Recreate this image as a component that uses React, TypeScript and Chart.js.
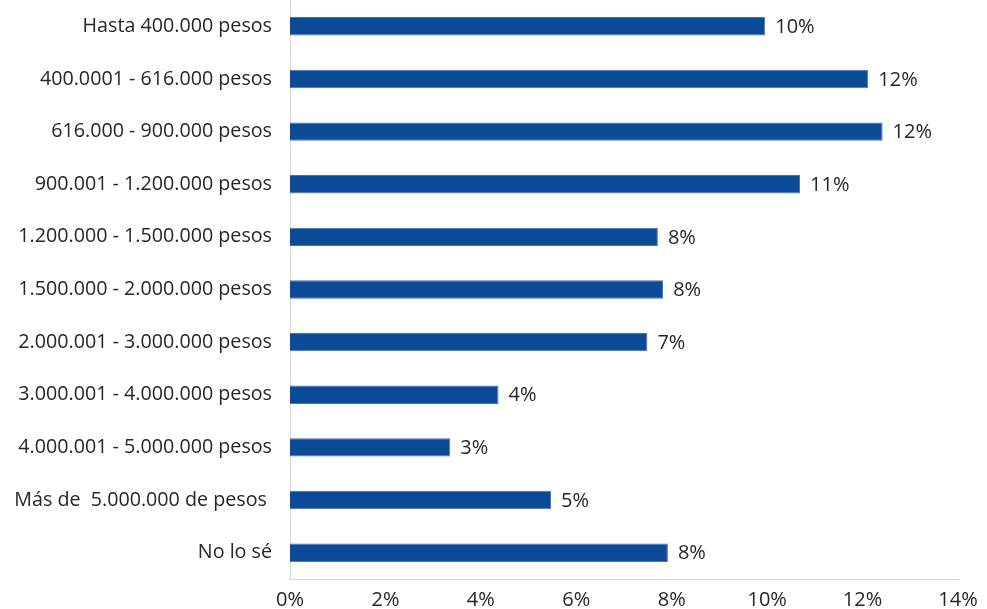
import React, { useEffect, useRef } from "react";
import { Chart, registerables } from "chart.js";

Chart.register(...registerables);

const categories = [
  "Hasta 400.000 pesos",
  "400.0001 - 616.000 pesos",
  "616.000 - 900.000 pesos",
  "900.001 - 1.200.000 pesos",
  "1.200.000 - 1.500.000 pesos",
  "1.500.000 - 2.000.000 pesos",
  "2.000.001 - 3.000.000 pesos",
  "3.000.001 - 4.000.000 pesos",
  "4.000.001 - 5.000.000 pesos",
  "Más de  5.000.000 de pesos ",
  "No lo sé",
];

const values = [9.96, 12.12, 12.42, 10.69, 7.71, 7.82, 7.49, 4.37, 3.36, 5.47, 7.92];

const xTicks = [0, 2, 4, 6, 8, 10, 12, 14];

const FONT = "'Open Sans', 'Noto Sans', sans-serif";

const dataLabelPlugin = {
  id: "dataLabels",
  afterDatasetsDraw(chart: any) {
    const ctx = chart.ctx;
    const meta = chart.getDatasetMeta(0);
    ctx.save();
    ctx.font = `20px ${FONT}`;
    ctx.fillStyle = "#262626";
    ctx.textAlign = "left";
    ctx.textBaseline = "middle";
    meta.data.forEach((bar: any, i: number) => {
      ctx.fillText(Math.round(values[i]) + "%", bar.x + 10, bar.y + 1);
    });
    ctx.restore();
  },
};

export default function App() {
  const ref = useRef<HTMLCanvasElement | null>(null);
  useEffect(() => {
    if (!ref.current) return;
    const chart = new Chart(ref.current, {
      type: "bar",
      data: {
        labels: categories,
        datasets: [
          {
            data: values,
            backgroundColor: "#0B4A97",
            borderColor: "#4A74B0",
            borderWidth: 1,
            barPercentage: 0.35,
            categoryPercentage: 1,
          },
        ],
      },
      options: {
        indexAxis: "y",
        animation: false,
        responsive: false,
        maintainAspectRatio: false,
        layout: { padding: { left: 0, right: 29, top: 0, bottom: 0 } },
        plugins: { legend: { display: false }, tooltip: { enabled: false } },
        scales: {
          x: {
            min: 0,
            max: 14,
            afterBuildTicks: (scale: any) => {
              scale.ticks = xTicks.map((v) => ({ value: v }));
            },
            afterFit: (scale: any) => {
              scale.height = 30;
              scale.paddingLeft = 0;
              scale.paddingRight = 0;
            },
            grid: { display: false, drawTicks: false },
            border: { display: true, color: "#D9D9D9", width: 1 },
            ticks: {
              padding: 9,
              color: "#262626",
              font: { family: FONT, size: 20 },
              maxRotation: 0,
              callback: (v: any) => v + "%",
            },
          },
          y: {
            afterFit: (scale: any) => {
              scale.width = 290;
              scale.paddingTop = 0;
              scale.paddingBottom = 0;
            },
            grid: { display: false, drawTicks: false },
            border: { display: true, color: "#D9D9D9", width: 1 },
            ticks: {
              padding: 18,
              color: "#262626",
              font: { family: FONT, size: 19.7 },
            },
          },
        },
      },
      plugins: [dataLabelPlugin],
    });
    return () => chart.destroy();
  }, []);
  return (
    <div style={{ position: "absolute", left: 0, top: 0, width: 987, height: 609, background: "#fff" }}>
      <canvas ref={ref} width={987} height={609} style={{ width: 987, height: 609 }} />
    </div>
  );
}
